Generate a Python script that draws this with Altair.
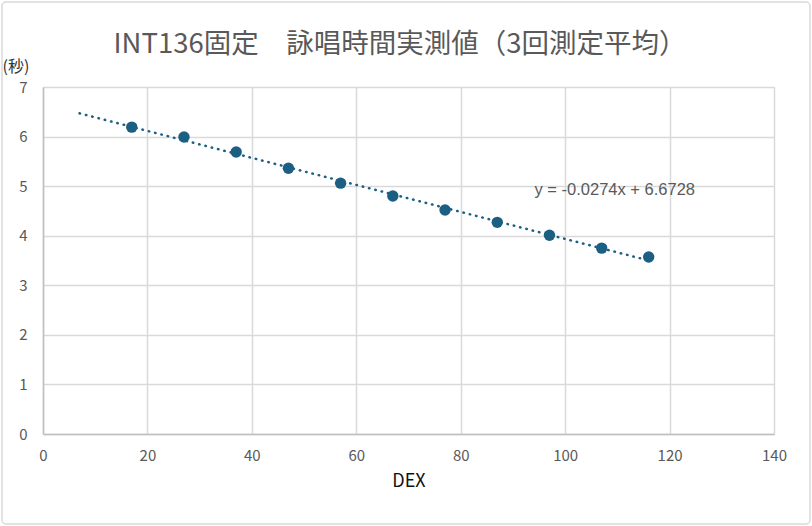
import altair as alt
import pandas as pd

dex = [17, 27, 37, 47, 57, 67, 77, 87, 97, 107, 116]
seconds = [6.19, 5.99, 5.69, 5.36, 5.06, 4.80, 4.52, 4.27, 4.01, 3.75, 3.57]
trend_extent = [7, 116]
eq_label = ["y = -0.0274x + 6.6728"]
eq_pos_x = [109.5]
eq_pos_y = [4.93]
title_text = ["INT136固定　詠唱時間実測値（3回測定平均）"]

df = pd.DataFrame({"DEX": dex, "sec": seconds})
eq_df = pd.DataFrame({"x": eq_pos_x, "y": eq_pos_y, "t": eq_label})

COLOR = "#1b5f82"
FONT = "Noto Sans CJK JP, Noto Sans, sans-serif"

xscale = alt.Scale(domain=[0, 140], nice=False, zero=True)
yscale = alt.Scale(domain=[0, 7], nice=False)

xaxis = alt.Axis(values=list(range(0, 141, 20)), title="DEX", titleFont=FONT,
                 titleFontSize=18, titleFontWeight="normal", titleColor="#111111",
                 titlePadding=9, labelFont=FONT, labelFontSize=15, labelColor="#595959",
                 labelPadding=14, labelFlush=False, ticks=False, domainColor="#bfbfbf",
                 domainWidth=1.5, gridColor="#d9d9d9", gridWidth=1.5)
yaxis = alt.Axis(values=list(range(0, 8)), title="(秒)", titleFont=FONT, titleFontSize=16,
                 titleFontWeight="normal", titleColor="#333333", titleAngle=0,
                 titleAlign="left", titleBaseline="bottom", titleX=-41, titleY=-13,
                 labelFont=FONT, labelFontSize=15, labelColor="#595959", labelPadding=16,
                 labelFlush=False, ticks=False, domainColor="#bfbfbf", domainWidth=1.5,
                 gridColor="#d9d9d9", gridWidth=1.5)

base = alt.Chart(df)

trend = base.transform_regression("DEX", "sec", method="linear", extent=trend_extent).mark_line(
    color=COLOR, strokeWidth=2.5, strokeDash=[0.5, 6], strokeCap="round"
).encode(x=alt.X("DEX:Q", scale=xscale, axis=xaxis), y=alt.Y("sec:Q", scale=yscale, axis=yaxis))

points = base.mark_circle(color=COLOR, size=130, opacity=1).encode(
    x=alt.X("DEX:Q", scale=xscale), y=alt.Y("sec:Q", scale=yscale)
)

eq = alt.Chart(eq_df).mark_text(font="Liberation Sans, sans-serif", fontSize=16.5,
                                color="#595959", align="center").encode(
    x=alt.X("x:Q", scale=xscale), y=alt.Y("y:Q", scale=yscale), text="t:N"
)

title = alt.Chart(pd.DataFrame({"t": title_text})).mark_text(
    font=FONT, fontSize=27.5, color="#595959", align="center", baseline="alphabetic"
).encode(x=alt.value(357), y=alt.value(-34), text="t:N")

border = alt.Chart(pd.DataFrame({"a": [0]})).mark_rect(
    fill=None, stroke="#d9d9d9", strokeWidth=1.5, cornerRadius=4
).encode(x=alt.value(-41), x2=alt.value(767), y=alt.value(-85), y2=alt.value(437))

chart = alt.layer(border, title, trend, points, eq).properties(
    width=731, height=347,
    autosize=alt.AutoSizeParams(type="none"),
    padding={"left": 43, "top": 87, "right": 38, "bottom": 92},
).configure_view(stroke=None).configure(background="white")

chart.save("out.html", embed_options={"renderer": "svg", "actions": False})
